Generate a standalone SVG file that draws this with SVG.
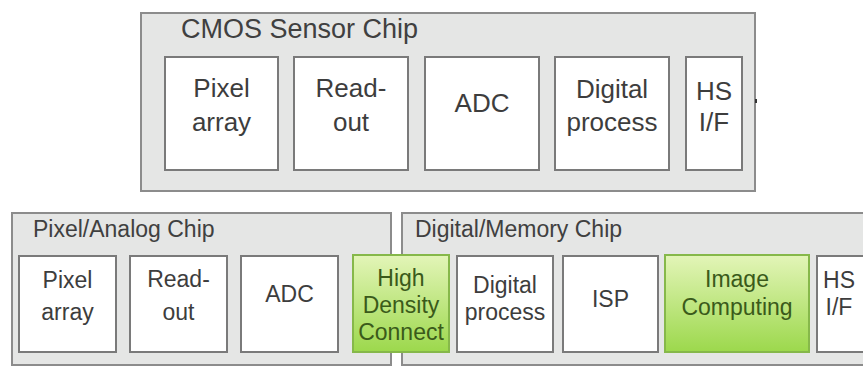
<svg xmlns="http://www.w3.org/2000/svg" width="863" height="367" viewBox="0 0 863 367">
<defs>
<linearGradient id="green" x1="0" y1="0" x2="0" y2="1">
<stop offset="0" stop-color="#e3f5b8"/>
<stop offset="1" stop-color="#9cd84c"/>
</linearGradient>
<style>
.chip{fill:#e5e6e5;stroke:#8c8c8c;stroke-width:2}
.box{fill:#ffffff;stroke:#7a7a7a;stroke-width:2}
.gbox{fill:url(#green);stroke:#86b84a;stroke-width:2}
.title{font-family:"Liberation Sans",Arial,sans-serif;fill:#404040}
.t{font-family:"Liberation Sans",Arial,sans-serif;fill:#3d3d3d;text-anchor:middle}
.gt{font-family:"Liberation Sans",Arial,sans-serif;fill:#3a5a1a;text-anchor:middle}
.top{font-size:26px}
.ttl{font-size:27px}
.bot{font-size:23px}
</style>
</defs>
<rect width="863" height="367" fill="#ffffff"/>

<g id="cmos-sensor-chip">
<rect class="chip" x="141" y="13" width="614" height="178"/>
<text class="title ttl" x="181" y="38">CMOS Sensor Chip</text>
</g>
<g id="top-pixel-array">
<rect class="box" x="165" y="57" width="113" height="113"/>
<text class="t top" x="221.5" y="97">Pixel</text>
<text class="t top" x="221.5" y="131">array</text>
</g>
<g id="top-read-out">
<rect class="box" x="294" y="57" width="114" height="113"/>
<text class="t top" x="351" y="97">Read-</text>
<text class="t top" x="351" y="131">out</text>
</g>
<g id="top-adc">
<rect class="box" x="425" y="57" width="114" height="113"/>
<text class="t top" x="482" y="112">ADC</text>
</g>
<g id="top-digital-process">
<rect class="box" x="555" y="57" width="114" height="113"/>
<text class="t top" x="612" y="98">Digital</text>
<text class="t top" x="612" y="131">process</text>
</g>
<g id="top-hs-if">
<rect class="box" x="686" y="57" width="56" height="113"/>
<text class="t top" x="714" y="100">HS</text>
<text class="t top" x="714" y="131">I/F</text>
</g>
<rect x="755" y="99" width="2" height="4" fill="#333333"/>

<g id="pixel-analog-chip">
<rect class="chip" x="12" y="213" width="379" height="152"/>
<text class="title bot" x="33" y="237">Pixel/Analog Chip</text>
</g>
<g id="digital-memory-chip">
<rect class="chip" x="402" y="213" width="480" height="152"/>
<text class="title bot" x="415" y="237">Digital/Memory Chip</text>
</g>
<g id="bot-pixel-array">
<rect class="box" x="19" y="256" width="97" height="96"/>
<text class="t bot" x="67.5" y="288">Pixel</text>
<text class="t bot" x="67.5" y="320">array</text>
</g>
<g id="bot-read-out">
<rect class="box" x="130" y="256" width="97" height="96"/>
<text class="t bot" x="178.5" y="287">Read-</text>
<text class="t bot" x="178.5" y="320">out</text>
</g>
<g id="bot-adc">
<rect class="box" x="241" y="256" width="97" height="96"/>
<text class="t bot" x="289.5" y="302">ADC</text>
</g>
<g id="high-density-connect">
<rect class="gbox" x="353" y="255" width="96" height="97"/>
<text class="gt bot" x="401" y="286">High</text>
<text class="gt bot" x="401" y="313">Density</text>
<text class="gt bot" x="401" y="340">Connect</text>
</g>
<g id="bot-digital-process">
<rect class="box" x="457" y="256" width="96" height="96"/>
<text class="t bot" x="505" y="293">Digital</text>
<text class="t bot" x="505" y="320">process</text>
</g>
<g id="isp">
<rect class="box" x="563" y="256" width="95" height="96"/>
<text class="t bot" x="610.5" y="307">ISP</text>
</g>
<g id="image-computing">
<rect class="gbox" x="665" y="255" width="144" height="97"/>
<text class="gt bot" x="737" y="287">Image</text>
<text class="gt bot" x="737" y="315">Computing</text>
</g>
<g id="bot-hs-if">
<rect class="box" x="817" y="256" width="60" height="96"/>
<text class="t bot" x="839" y="288">HS</text>
<text class="t bot" x="839" y="315">I/F</text>
</g>
</svg>
